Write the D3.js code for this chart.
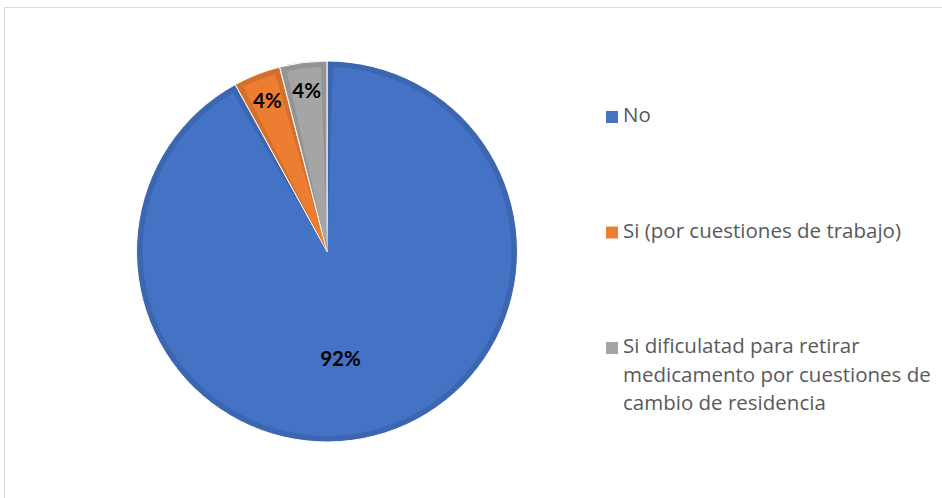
<!DOCTYPE html>
<html>
<head>
<meta charset="utf-8">
<script src="https://cdn.jsdelivr.net/npm/d3@7"></script>
<style>
  html, body { margin: 0; padding: 0; background: #ffffff; }
  svg { display: block; }
</style>
</head>
<body>
<svg id="chart" width="942" height="498"></svg>
<script>
// Survey answers and their shares (percent)
const categories = [
  "No",
  "Si (por cuestiones de trabajo)",
  "Si dificulatad para retirar medicamento por cuestiones de cambio de residencia"
];
const values = [92, 4, 4];
const colors = ["#4472C4", "#ED7D31", "#A5A5A5"];
// Legend text, already wrapped into lines
const legendLines = [
  ["No"],
  ["Si (por cuestiones de trabajo)"],
  ["Si dificulatad para retirar", "medicamento por cuestiones de", "cambio de residencia"]
];

const svg = d3.select("#chart");

// Outer chart frame (runs past the right and bottom edges)
svg.append("rect")
  .attr("x", 4.5).attr("y", 7.5)
  .attr("width", 1000).attr("height", 600)
  .attr("fill", "#ffffff")
  .attr("stroke", "#d9d9d9")
  .attr("stroke-width", 1);

const cx = 327, cy = 251.5, r = 190.5;
const bevel = 6;

const pie = d3.pie().sort(null).value(d => d)(values);
const data = pie.map((p, i) => ({ ...p, i }));

const outerArc = d3.arc().innerRadius(0).outerRadius(r);
const innerArc = d3.arc().innerRadius(0).outerRadius(r - bevel)
  .padRadius(r).padAngle((bevel * 2) / r);

const g = svg.append("g").attr("transform", `translate(${cx},${cy})`);

const slices = g.selectAll("g.slice").data(data).join("g").attr("class", "slice");

// darker rim of each slice
slices.append("path")
  .attr("d", outerArc)
  .attr("fill", d => d3.color(colors[d.i]).darker(0.3))
  .attr("stroke", "#ffffff")
  .attr("stroke-width", 1)
  .attr("stroke-linejoin", "round");

// main face of each slice
slices.append("path")
  .attr("d", innerArc)
  .attr("fill", d => colors[d.i]);

// Percent labels
const labelRadius = d => (d.value > 50 ? 0.58 * r : 0.85 * r);
g.selectAll("text.pct").data(data).join("text")
  .attr("class", "pct")
  .attr("transform", d => {
    const a = (d.startAngle + d.endAngle) / 2;
    const lr = labelRadius(d);
    const shift = d.value > 50 ? -14 : 0;
    return `translate(${lr * Math.sin(a) + shift},${-lr * Math.cos(a)})`;
  })
  .attr("text-anchor", "middle")
  .attr("dy", "0.36em")
  .attr("font-family", "Lato, 'Open Sans', sans-serif")
  .attr("font-weight", "bold")
  .attr("font-size", 20.5)
  .attr("fill", "#000000")
  .text(d => d.value + "%");

// Legend
const legendY = d3.scalePoint().domain(d3.range(categories.length)).range([122, 353]);
const lineH = 28.5;
const legend = svg.append("g")
  .attr("font-family", "'Open Sans', Lato, sans-serif")
  .attr("font-size", 20.5)
  .attr("fill", "#595959");

const items = legend.selectAll("g").data(categories.map((c, i) => i)).join("g")
  .attr("transform", i => `translate(0,${legendY(i)})`);

items.append("rect")
  .attr("x", 606).attr("y", -11)
  .attr("width", 12).attr("height", 12)
  .attr("fill", i => colors[i]);

items.append("text")
  .attr("x", 623)
  .selectAll("tspan").data(i => legendLines[i]).join("tspan")
  .attr("x", 623)
  .attr("y", (d, j) => j * lineH)
  .text(d => d);
</script>
</body>
</html>
